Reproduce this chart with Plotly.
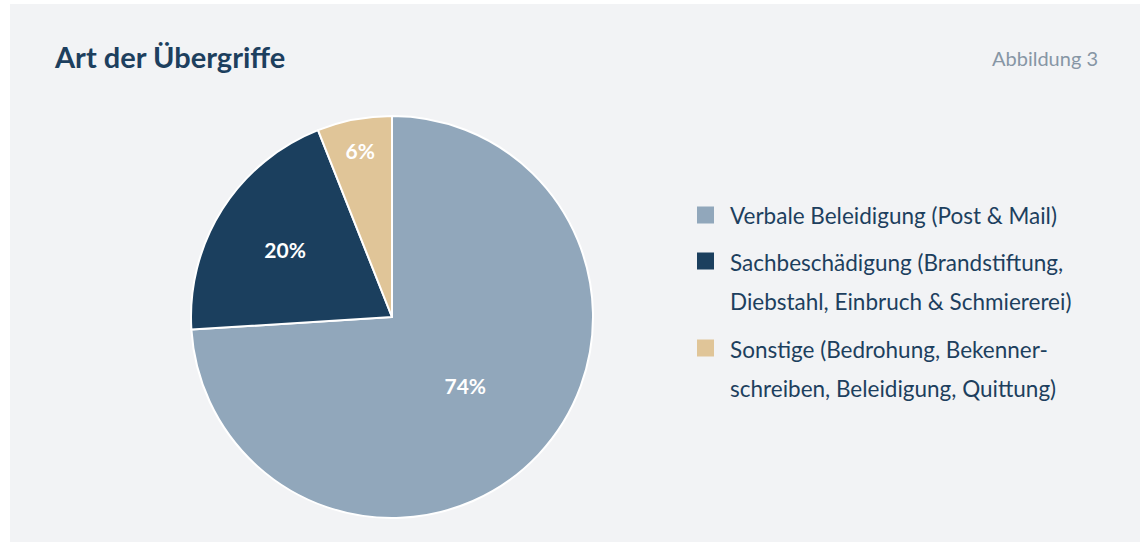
import plotly.graph_objects as go

# ---- data ----
categories = [
    "Verbale Beleidigung (Post & Mail)",
    "Sachbeschädigung (Brandstiftung,<br>Diebstahl, Einbruch & Schmiererei)",
    "Sonstige (Bedrohung, Bekenner-<br>schreiben, Beleidigung, Quittung)",
]
values = [74, 20, 6]
colors = ["#91a7bb", "#1b3f5e", "#e0c598"]

title_text = "Art der Übergriffe"
figure_label = "Abbildung 3"

W, H = 1140, 542
FONT = "Lato, 'Source Sans Pro', 'Noto Sans', sans-serif"
TEXT_COLOR = "#1d3f5e"
BG = "#f2f3f5"


def px_x(x):
    return x / W


def px_y(y):
    return 1 - y / H


fig = go.Figure()
fig.add_trace(go.Pie(
    labels=categories,
    values=values,
    marker=dict(colors=colors, line=dict(color="white", width=2)),
    sort=False,
    direction="clockwise",
    rotation=0,
    texttemplate="%{percent:.0%}",
    textposition="inside",
    insidetextorientation="horizontal",
    textfont=dict(family=FONT, size=21, color="white", weight="bold"),
    hoverinfo="label+percent",
    showlegend=False,
    domain=dict(x=[px_x(191), px_x(593)], y=[px_y(518), px_y(116)]),
))

shapes = [
    dict(type="rect", xref="paper", yref="paper", x0=px_x(10), x1=1, y0=0, y1=px_y(4),
         fillcolor=BG, line=dict(width=0), layer="below"),
]
annotations = [
    dict(text=f"<b>{title_text}</b>", xref="paper", yref="paper", x=px_x(52), y=px_y(56),
         xanchor="left", yanchor="middle", showarrow=False,
         font=dict(family=FONT, size=29, color=TEXT_COLOR)),
    dict(text=figure_label, xref="paper", yref="paper", x=px_x(1100), y=px_y(58),
         xanchor="right", yanchor="middle", showarrow=False,
         font=dict(family=FONT, size=20, color="#8796a5")),
]

# legend drawn manually for precise line spacing
square_centers = [215, 261, 348]
line_gap = 39
for cat, col, cy in zip(categories, colors, square_centers):
    shapes.append(dict(type="rect", xref="paper", yref="paper",
                       x0=px_x(697), x1=px_x(714), y0=px_y(cy + 8.5), y1=px_y(cy - 8.5),
                       fillcolor=col, line=dict(width=0)))
    for i, line in enumerate(cat.split("<br>")):
        annotations.append(dict(text=line, xref="paper", yref="paper",
                                x=px_x(728), y=px_y(cy + 1 + i * line_gap),
                                xanchor="left", yanchor="middle", showarrow=False,
                                font=dict(family=FONT, size=22.5, color=TEXT_COLOR)))

fig.update_layout(
    width=W, height=H,
    margin=dict(l=0, r=0, t=0, b=0),
    paper_bgcolor="white",
    plot_bgcolor="white",
    shapes=shapes,
    annotations=annotations,
)

fig.write_html("out.html", config={"displayModeBar": False},
               post_script="document.body.style.margin='0';document.body.style.overflow='hidden';")
